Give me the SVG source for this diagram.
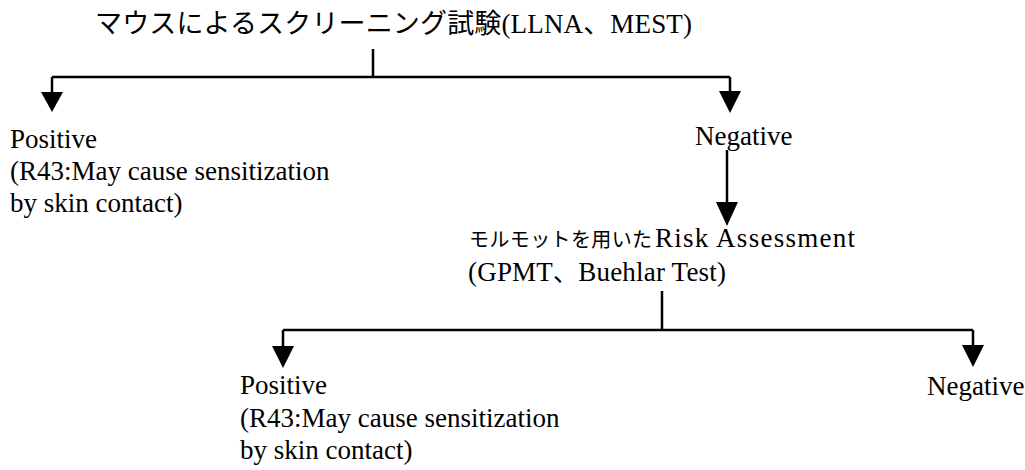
<svg xmlns="http://www.w3.org/2000/svg" width="1025" height="470" viewBox="0 0 1025 470">
<style>
text{font-family:"Liberation Serif","Noto Sans CJK JP",serif;font-size:27px;fill:#000}
.jp{font-family:"Noto Sans CJK JP",sans-serif}
.jc{font-family:"Noto Sans CJK JP",sans-serif;font-size:25px}
text.jps{font-family:"Noto Sans CJK JP",sans-serif;font-size:20px}
.ln{stroke:#000;stroke-width:2.5;fill:none}
.hd{fill:#000}
</style>
<rect width="1025" height="470" fill="#fff"/>
<g id="connectors">
<path class="ln" d="M373,49V77M52,77H730M52,77V93M730,77V92"/>
<polygon class="hd" points="41,92 63,92 52,112"/>
<polygon class="hd" points="719,91 741,91 730,113"/>
<path class="ln" d="M727,150V203"/>
<polygon class="hd" points="716,202 738,202 727,226"/>
<path class="ln" d="M662,291V330M283,330H973M283,330V347M973,330V346"/>
<polygon class="hd" points="272,346 294,346 283,368"/>
<polygon class="hd" points="962,345 984,345 973,367"/>
</g>
<g id="n-mouse">
<text x="95" y="33" textLength="597"><tspan class="jp">マウスによるスクリーニング試験</tspan>(LLNA<tspan class="jp">、</tspan>MEST)</text>
</g>
<g id="n-pos1">
<text x="10" y="148">Positive</text>
<text x="10" y="180">(R43:May cause sensitization</text>
<text x="10" y="212">by skin contact)</text>
</g>
<g id="n-neg1">
<text x="695" y="145">Negative</text>
</g>
<g id="n-guinea">
<text class="jps" x="469" y="247" textLength="183" lengthAdjust="spacing">モルモットを用いた</text>
<text x="655" y="247" textLength="200" lengthAdjust="spacing">Risk Assessment</text>
<text x="468" y="281" textLength="258" lengthAdjust="spacing">(GPMT<tspan class="jc">、</tspan>Buehlar Test)</text>
</g>
<g id="n-pos2">
<text x="240" y="394">Positive</text>
<text x="240" y="427">(R43:May cause sensitization</text>
<text x="240" y="459">by skin contact)</text>
</g>
<g id="n-neg2">
<text x="927" y="395">Negative</text>
</g>
</svg>
